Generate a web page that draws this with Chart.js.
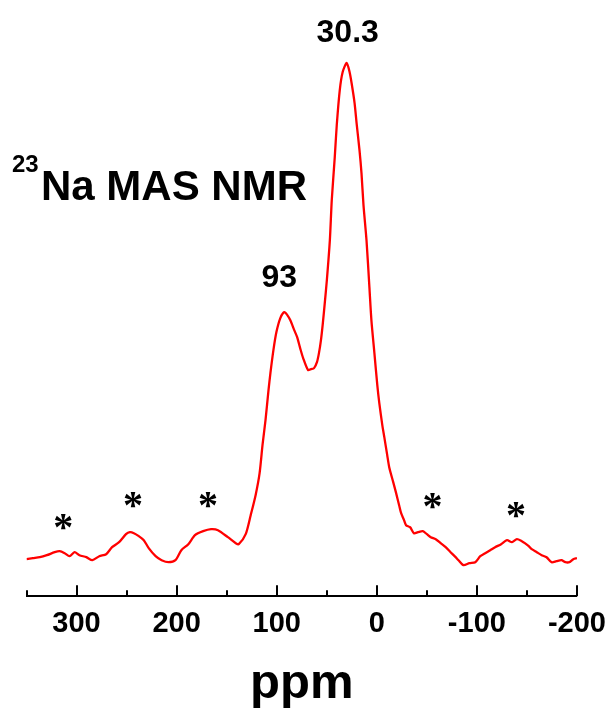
<!DOCTYPE html>
<html>
<head>
<meta charset="utf-8">
<script src="https://cdn.jsdelivr.net/npm/chart.js@4"></script>
<style>
html, body { margin: 0; padding: 0; background: #fff; }
#wrap { width: 616px; height: 713px; }
</style>
</head>
<body>
<div id="wrap"><canvas id="nmr"></canvas></div>
<script>
// 23Na MAS NMR spectrum (ppm, intensity in arbitrary units)
const ppm = [350.0, 343.6, 336.7, 329.7, 321.8, 316.9, 311.9, 307.0, 302.0, 297.1,
  290.2, 284.2, 277.3, 270.4, 264.5, 257.5, 250.6, 246.7, 242.7, 237.8,
  232.8, 227.9, 221.0, 215.0, 208.1, 201.2, 195.3, 188.3, 181.7, 173.5,
  165.6, 158.7, 148.8, 140.9, 137.9, 131.0, 126.0, 121.1, 117.1, 114.2,
  111.2, 108.2, 106.3, 103.3, 100.3, 96.4, 92.4, 89.4, 86.5, 82.5,
  79.6, 76.6, 73.6, 68.7, 65.7, 62.7, 59.8, 57.8, 55.8, 53.9,
  51.9, 49.9, 46.9, 45.0, 42.0, 40.0, 37.0, 34.1, 30.1, 27.2,
  25.2, 22.2, 20.2, 17.3, 15.3, 13.3, 10.3, 7.4, 5.4, 2.4,
  -0.5, -2.5, -5.5, -7.5, -10.4, -12.4, -16.4, -19.3, -22.3, -24.3,
  -27.2, -29.2, -33.2, -37.1, -41.1, -46.0, -50.0, -53.9, -58.9, -63.8,
  -68.8, -73.7, -78.7, -81.6, -86.6, -92.5, -98.4, -103.4, -108.3, -113.3,
  -118.2, -124.2, -130.1, -135.0, -140.0, -144.9, -147.9, -151.8, -154.8, -159.8,
  -164.7, -169.6, -174.6, -179.5, -184.5, -188.4, -192.4, -196.3, -200.0];
const intensity = [37, 38, 39, 41, 44, 45, 43, 40, 44, 41,
  39, 36, 40, 42, 49, 54, 62, 64, 63, 60,
  56, 48, 40, 36, 34, 36, 46, 52, 61, 65,
  67, 66, 59, 53, 52, 62, 81, 101, 123, 151,
  176, 206, 223, 246, 264, 278, 284, 281, 276, 266,
  259, 248, 238, 226, 227, 228, 234, 243, 256, 273,
  294, 316, 356, 396, 439, 471, 506, 524, 533, 524,
  513, 493, 473, 446, 423, 391, 356, 309, 276, 243,
  211, 193, 171, 159, 141, 129, 114, 103, 91, 83,
  76, 71, 69, 63, 64, 65, 62, 59, 57, 53,
  49, 44, 39, 36, 31, 33, 34, 40, 43, 46,
  49, 52, 56, 54, 57, 55, 53, 50, 47, 44,
  41, 39, 34, 35, 36, 34, 34, 37, 38];

const majorTicks = [300, 200, 100, 0, -100, -200];
const minorTicks = [350, 250, 150, 50, -50, -150];
const axisTitle = 'ppm';

const peakLabels = ['93', '30.3'];
const peakPpm = [97.4, 29.1];
const peakHeight = [309, 554];

// spinning sidebands marked with *
const sidebandPpm = [313.4, 243.7, 168.6, -55.6, -139.0];
const sidebandHeight = [74, 96, 96.5, 95, 86];

const sans = '"Liberation Sans", Arial, sans-serif';

const annotations = {
  id: 'annotations',
  afterDraw(chart) {
    const { ctx } = chart;
    const xs = chart.scales.x, ys = chart.scales.y;
    const base = xs.top;
    ctx.save();
    ctx.strokeStyle = '#000';
    ctx.lineWidth = 2;
    ctx.beginPath();
    majorTicks.forEach(v => {
      const px = Math.round(xs.getPixelForValue(v));
      ctx.moveTo(px, base); ctx.lineTo(px, base - 11);
    });
    minorTicks.forEach(v => {
      const px = Math.round(xs.getPixelForValue(v));
      ctx.moveTo(px, base); ctx.lineTo(px, base - 6);
    });
    ctx.stroke();

    ctx.fillStyle = '#000';
    ctx.textAlign = 'center';
    ctx.textBaseline = 'alphabetic';
    ctx.font = 'bold 32px ' + sans;
    peakLabels.forEach((t, i) => {
      ctx.fillText(t, xs.getPixelForValue(peakPpm[i]), ys.getPixelForValue(peakHeight[i]));
    });

    ctx.font = 'bold 49px ' + sans;
    ctx.fillText(axisTitle, (xs.left + xs.right) / 2, 698);

    ctx.font = 'bold 40px "Liberation Serif", "Times New Roman", serif';
    const m = ctx.measureText('*');
    const shift = (m.actualBoundingBoxAscent - m.actualBoundingBoxDescent) / 2;
    sidebandPpm.forEach((v, i) => {
      ctx.fillText('*', xs.getPixelForValue(v), ys.getPixelForValue(sidebandHeight[i]) + shift);
    });

    ctx.textAlign = 'left';
    ctx.font = 'bold 24px ' + sans;
    ctx.fillText('23', 12, 172);
    ctx.font = 'bold 42px ' + sans;
    ctx.fillText('Na MAS NMR', 41, 200);
    ctx.restore();
  }
};

new Chart(document.getElementById('nmr'), {
  type: 'line',
  data: {
    datasets: [{
      data: ppm.map((x, i) => ({ x: x, y: intensity[i] })),
      borderColor: '#ff0000',
      borderWidth: 2.3,
      pointRadius: 0,
      tension: 0.25,
      fill: false
    }]
  },
  options: {
    responsive: true,
    maintainAspectRatio: false,
    animation: false,
    events: [],
    layout: { padding: { left: 26.5, right: 33.3, top: 16, bottom: 62 } },
    plugins: { legend: { display: false }, tooltip: { enabled: false } },
    scales: {
      x: {
        type: 'linear',
        reverse: true,
        min: -200,
        max: 350,
        afterBuildTicks: scale => { scale.ticks = majorTicks.map(v => ({ value: v })); },
        grid: { display: false, drawTicks: false },
        border: { display: true, color: '#000', width: 2 },
        ticks: {
          autoSkip: false,
          maxRotation: 0,
          padding: 10,
          color: '#000',
          font: { family: sans, size: 29, weight: 'bold' }
        }
      },
      y: { display: false, min: 0, max: 580 }
    }
  },
  plugins: [annotations]
});
</script>
</body>
</html>
